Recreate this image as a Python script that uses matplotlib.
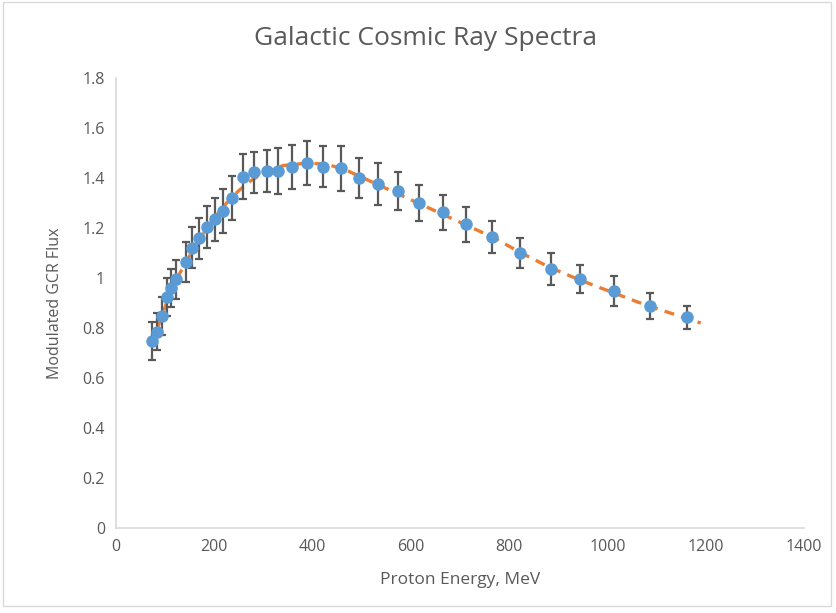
import matplotlib.pyplot as plt
from matplotlib.patches import Rectangle

# measured points (Proton energy in MeV, modulated flux, +/- error)
energy = [73, 84, 94, 103, 112, 123, 142, 155, 168, 185, 201, 218, 237,
          258, 281, 307, 330, 359, 389, 421, 458, 495, 534, 573, 616, 665,
          712, 766, 822, 885, 945, 1014, 1087, 1162]
flux = [0.748, 0.785, 0.848, 0.925, 0.959, 0.995, 1.065, 1.121, 1.159, 1.205,
        1.235, 1.268, 1.321, 1.405, 1.423, 1.429, 1.429, 1.445, 1.459, 1.445,
        1.440, 1.399, 1.376, 1.348, 1.301, 1.263, 1.215, 1.165, 1.101, 1.036,
        0.997, 0.949, 0.888, 0.843]
flux_err = [0.076, 0.075, 0.075, 0.075, 0.076, 0.078, 0.080, 0.082, 0.083,
            0.085, 0.086, 0.087, 0.088, 0.090, 0.081, 0.083, 0.092, 0.087,
            0.088, 0.082, 0.090, 0.080, 0.085, 0.075, 0.073, 0.070, 0.070,
            0.063, 0.061, 0.063, 0.057, 0.059, 0.053, 0.047]

# fitted trend line
fit_energy = [73, 90, 110, 130, 150, 175, 200, 225, 250, 275, 300, 340, 390,
              430, 470, 520, 570, 620, 670, 720, 770, 820, 880, 940, 1000,
              1060, 1120, 1190]
fit_flux = [0.74, 0.83, 0.94, 1.02, 1.09, 1.17, 1.24, 1.30, 1.35, 1.39, 1.42,
            1.45, 1.46, 1.455, 1.43, 1.385, 1.34, 1.295, 1.25, 1.205, 1.16,
            1.105, 1.045, 0.995, 0.95, 0.905, 0.865, 0.82]

x_ticks = [0, 200, 400, 600, 800, 1000, 1200, 1400]
y_ticks = [0, 0.2, 0.4, 0.6, 0.8, 1.0, 1.2, 1.4, 1.6, 1.8]
y_labels = ["0", "0.2", "0.4", "0.6", "0.8", "1", "1.2", "1.4", "1.6", "1.8"]

plt.rcParams["font.family"] = ["Open Sans", "DejaVu Sans"]
text_grey = "#595959"
axis_grey = "#d9d9d9"

fig = plt.figure(figsize=(8.36, 6.13), dpi=100)
ax = fig.add_axes([0.1388, 0.1387, 0.8229, 0.734])

ax.plot(fit_energy, fit_flux, color="#ED7D31", linewidth=2.4,
        linestyle=(0, (3, 2.2)), zorder=2)
ax.errorbar(energy, flux, yerr=flux_err, fmt="o", color="#5B9BD5",
            markersize=8, ecolor="#595959", elinewidth=1.6, capsize=3,
            capthick=1.6, zorder=3)

ax.set_xlim(0, 1400)
ax.set_ylim(0, 1.8)
ax.set_xticks(x_ticks)
ax.set_yticks(y_ticks)
ax.set_yticklabels(y_labels)
ax.tick_params(length=0, labelsize=11.5, labelcolor=text_grey, pad=8)
for side in ["top", "right"]:
    ax.spines[side].set_visible(False)
for side in ["left", "bottom"]:
    ax.spines[side].set_color(axis_grey)
    ax.spines[side].set_linewidth(1.2)

ax.set_xlabel("Proton Energy, MeV", fontsize=12.5, color=text_grey, labelpad=12)
ax.set_ylabel("Modulated GCR Flux", fontsize=11.5, color=text_grey, labelpad=14)
fig.text(0.509, 0.937, "Galactic Cosmic Ray Spectra", ha="center",
         va="center", fontsize=19, color=text_grey)

fig.patches.append(Rectangle((0.004, 0.012), 0.99, 0.984, fill=False,
                             edgecolor=axis_grey, linewidth=1,
                             transform=fig.transFigure))

fig.savefig("out.png", dpi=100)
